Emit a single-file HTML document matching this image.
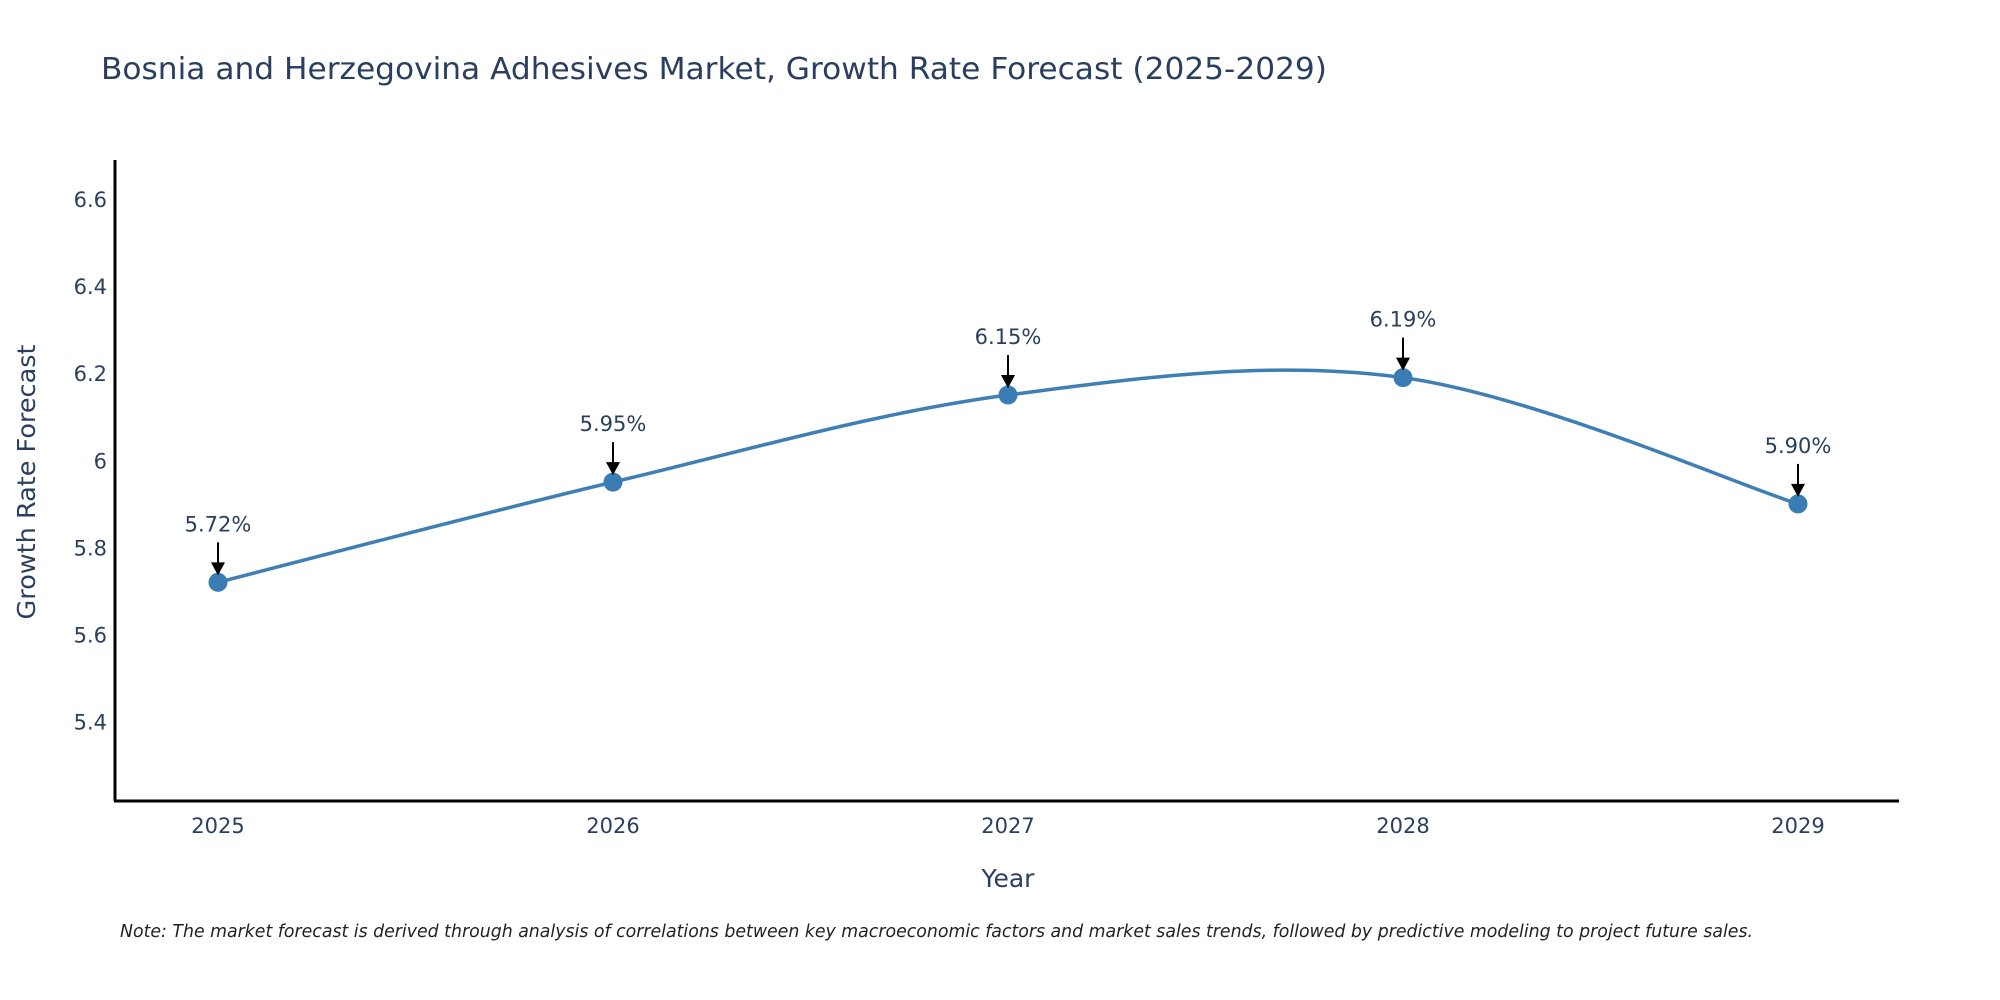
<!DOCTYPE html>
<html><head><meta charset="utf-8"><style>
body{margin:0;background:#fff;}
svg{display:block;font-family:"DejaVu Sans","Liberation Sans",sans-serif;}
</style></head><body>
<svg id="chart" width="2000" height="1000" viewBox="0 0 2000 1000">
<text x="101" y="79" font-size="30" fill="#2a3f5f" textLength="1226" lengthAdjust="spacingAndGlyphs">Bosnia and Herzegovina Adhesives Market, Growth Rate Forecast (2025-2029)</text>
<g id="yticks"></g>
<g id="xticks"></g>
<line x1="115" y1="160" x2="115" y2="801" stroke="#000" stroke-width="3"/>
<line x1="114" y1="801" x2="1899" y2="801" stroke="#000" stroke-width="3"/>
<text transform="translate(35,482) rotate(-90)" text-anchor="middle" font-size="25" fill="#2a3f5f" textLength="275" lengthAdjust="spacingAndGlyphs">Growth Rate Forecast</text>
<text x="1008" y="887" text-anchor="middle" font-size="25" fill="#2a3f5f">Year</text>
<g id="series"></g>
<text x="120" y="937" font-size="18" font-style="italic" fill="#222" textLength="1633" lengthAdjust="spacingAndGlyphs">Note: The market forecast is derived through analysis of correlations between key macroeconomic factors and market sales trends, followed by predictive modeling to project future sales.</text>
</svg>
<script>
const years = ["2025","2026","2027","2028","2029"];
const values = [5.72, 5.95, 6.15, 6.19, 5.90];
const valueLabels = ["5.72%","5.95%","6.15%","6.19%","5.90%"];
const yTickValues = [5.4, 5.6, 5.8, 6, 6.2, 6.4, 6.6];
const yTickLabels = ["5.4","5.6","5.8","6","6.2","6.4","6.6"];

const NS="http://www.w3.org/2000/svg";
function xScale(i){return 218 + i*395;}
function yScale(v){return 199 + (6.6 - v)*435.6;}
function mk(tag, attrs, parent){const e=document.createElementNS(NS,tag);for(const k in attrs)e.setAttribute(k,attrs[k]);parent.appendChild(e);return e;}

const yt=document.getElementById('yticks');
yTickValues.forEach((v,i)=>{
  const t=mk('text',{x:107,y:yScale(v)+8,'text-anchor':'end','font-size':21,fill:'#2a3f5f'},yt);
  
  
  t.textContent=yTickLabels[i];
});
const xt=document.getElementById('xticks');
years.forEach((y,i)=>{
  const t=mk('text',{x:xScale(i),y:833,'text-anchor':'middle','font-size':21,fill:'#2a3f5f'},xt);
  
  
  t.textContent=y;
});

const g=document.getElementById('series');
const pts=values.map((v,i)=>[xScale(i),yScale(v)]);
let d=`M${pts[0][0]},${pts[0][1]}`;
const k=1/6;
for(let i=0;i<pts.length-1;i++){
  const p0=pts[Math.max(i-1,0)],p1=pts[i],p2=pts[i+1],p3=pts[Math.min(i+2,pts.length-1)];
  const c1=[p1[0]+(p2[0]-p0[0])*k,p1[1]+(p2[1]-p0[1])*k];
  const c2=[p2[0]-(p3[0]-p1[0])*k,p2[1]-(p3[1]-p1[1])*k];
  d+=` C${c1[0]},${c1[1]} ${c2[0]},${c2[1]} ${p2[0]},${p2[1]}`;
}
const line=mk('path',{d:d,fill:'none',stroke:'#3f7fb3','stroke-width':3.5},g);



pts.forEach((p,i)=>{
  const c=mk('circle',{cx:p[0],cy:p[1],r:9.5,fill:'#3a7db5'},g);
  
  
  const a=mk('line',{x1:p[0],y1:p[1]-40,x2:p[0],y2:p[1]-18,stroke:'#000','stroke-width':2},g);
  
  
  const h=mk('polygon',{points:`${p[0]-7},${p[1]-20} ${p[0]+7},${p[1]-20} ${p[0]},${p[1]-7}`,fill:'#000'},g);
  
  
  const t=mk('text',{x:p[0],y:p[1]-51,'text-anchor':'middle','font-size':21,fill:'#2a3f5f'},g);
  
  
  t.textContent=valueLabels[i];
});
</script>
</body></html>
